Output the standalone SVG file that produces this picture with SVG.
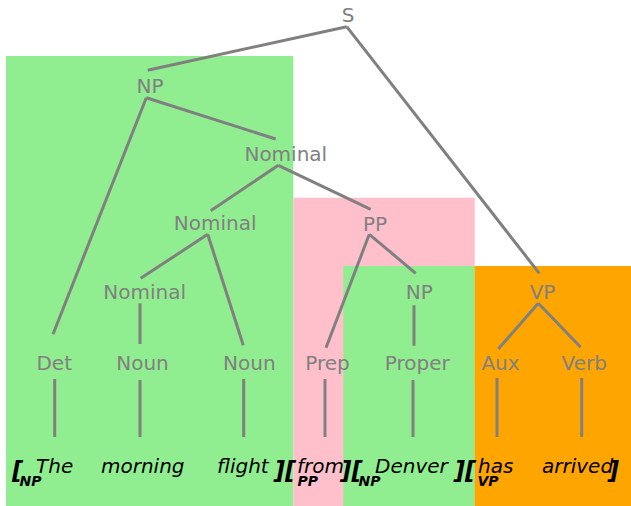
<svg xmlns="http://www.w3.org/2000/svg" width="631" height="506" viewBox="0 0 631 506">
<style>
.lbl{font-family:"DejaVu Sans",sans-serif;font-size:20px;fill:#808080;text-anchor:middle}
.w{font-family:"DejaVu Sans",sans-serif;font-size:20px;font-style:italic;fill:#000}
.br{font-family:"DejaVu Sans",sans-serif;font-size:24px;font-style:italic;font-weight:bold;fill:#000}
.sub{font-family:"DejaVu Sans",sans-serif;font-size:14px;font-style:italic;font-weight:bold;fill:#000}
.e{stroke:#808080;stroke-width:3;fill:none}
</style>
<rect width="631" height="506" fill="#fff"/>
<g id="regions">
<rect x="6" y="56" width="287.3" height="450" fill="#90EE90"/>
<rect x="293.3" y="197.7" width="181.4" height="308.3" fill="#FFC0CB"/>
<rect x="343.3" y="266" width="131.4" height="240" fill="#90EE90"/>
<rect x="474.7" y="266" width="156.3" height="240" fill="#FFA500"/>
</g>
<g id="connectors" class="e">
<line x1="346.7" y1="26.7" x2="147.7" y2="70.3"/>
<line x1="346.7" y1="26.7" x2="539.3" y2="273.3"/>
<line x1="146.3" y1="97.7" x2="275.7" y2="139"/>
<line x1="146.3" y1="97.7" x2="53" y2="334.3"/>
<line x1="278.3" y1="165.3" x2="210.7" y2="210.7"/>
<line x1="278.3" y1="165.3" x2="370.7" y2="209.3"/>
<line x1="207.7" y1="234.3" x2="140.7" y2="278.3"/>
<line x1="207.7" y1="234.3" x2="243.3" y2="345.3"/>
<line x1="369.3" y1="234.3" x2="326" y2="347.7"/>
<line x1="369.3" y1="234.3" x2="415.7" y2="273.3"/>
<line x1="140" y1="303.3" x2="140" y2="344"/>
<line x1="414" y1="305.3" x2="414" y2="345.7"/>
<line x1="538.3" y1="303.3" x2="498.3" y2="349"/>
<line x1="538.3" y1="303.3" x2="580.7" y2="347.3"/>
<line x1="54.7" y1="379" x2="54.7" y2="437"/>
<line x1="140" y1="380" x2="140" y2="437"/>
<line x1="243.7" y1="379" x2="243.7" y2="437"/>
<line x1="325" y1="379" x2="325" y2="437"/>
<line x1="413" y1="380" x2="413" y2="437"/>
<line x1="497" y1="378" x2="497" y2="437"/>
<line x1="581.7" y1="378" x2="581.7" y2="437"/>
</g>
<g id="S"><text class="lbl" x="348" y="22">S</text></g>
<g id="NP1"><text class="lbl" x="150" y="93">NP</text></g>
<g id="Nominal1"><text class="lbl" x="285.8" y="161">Nominal</text></g>
<g id="Nominal2"><text class="lbl" x="215.2" y="230">Nominal</text></g>
<g id="PP"><text class="lbl" x="375" y="230.5">PP</text></g>
<g id="Nominal3"><text class="lbl" x="144.7" y="299">Nominal</text></g>
<g id="NP2"><text class="lbl" x="419.3" y="299">NP</text></g>
<g id="VP"><text class="lbl" x="542.5" y="299">VP</text></g>
<g id="Det"><text class="lbl" x="54.2" y="370">Det</text></g>
<g id="Noun1"><text class="lbl" x="142.5" y="370">Noun</text></g>
<g id="Noun2"><text class="lbl" x="249.3" y="370">Noun</text></g>
<g id="Prep"><text class="lbl" x="327.5" y="370">Prep</text></g>
<g id="Proper"><text class="lbl" x="417.2" y="370">Proper</text></g>
<g id="Aux"><text class="lbl" x="500.5" y="370">Aux</text></g>
<g id="Verb"><text class="lbl" x="584.2" y="370">Verb</text></g>
<g id="sentence">
<text class="br" x="12" y="479">[</text>
<text class="sub" x="19.5" y="486">NP</text>
<text class="w" x="36" y="473.3">The</text>
<text class="w" x="101" y="473.3">morning</text>
<text class="w" x="217" y="473.3">flight</text>
<text class="br" x="274" y="479">][</text>
<text class="sub" x="297.5" y="486">PP</text>
<text class="w" x="297" y="473.3">from</text>
<text class="br" x="340.5" y="479">][</text>
<text class="sub" x="358.5" y="486">NP</text>
<text class="w" x="375" y="473.3">Denver</text>
<text class="br" x="454" y="479">][</text>
<text class="sub" x="477.5" y="486">VP</text>
<text class="w" x="478" y="473.3">has</text>
<text class="w" x="542" y="473.3">arrived</text>
<text class="br" x="608" y="479">]</text>
</g>
</svg>
